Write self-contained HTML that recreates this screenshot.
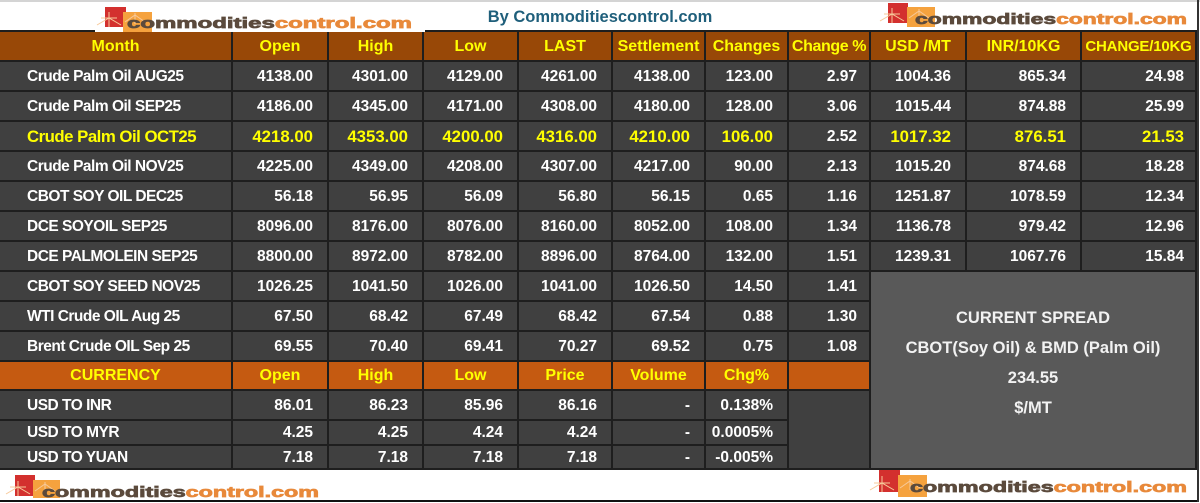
<!DOCTYPE html>
<html><head><meta charset="utf-8"><style>
*{margin:0;padding:0;box-sizing:border-box}
body{width:1200px;height:503px;background:#fff;position:relative;overflow:hidden;font-family:"Liberation Sans",Arial,sans-serif;font-weight:bold}
.g{position:absolute;left:0;top:30px;width:1197px;display:grid;background:#1e1e1e;padding:2px 2px 2px 0;gap:2px;
grid-template-columns:231px 94px 93px 93px 92px 91px 81px 80px 94px 113px 113px;
grid-template-rows:repeat(11,28px) 27px 28px 23px 22px;}
.g>div{display:flex;align-items:center;white-space:nowrap;overflow:visible}
.h{background:#984807;color:#ffff00;justify-content:center;font-size:16px;padding-top:1px}
.c{background:#c55a11;color:#ffff00;justify-content:center;font-size:16px;padding-top:1px}
.d{background:#404040;color:#fff;justify-content:flex-end;padding-right:14px;font-size:15.5px;padding-top:1px}
.d.l{justify-content:flex-start;padding-left:27px;padding-right:0;letter-spacing:-.5px}
.d.p{padding-right:12px}
.d.q{padding-right:11px}
.y{color:#ffff00!important;font-size:16.8px!important}
.sp{grid-column:9/12;grid-row:9/16;background:#595959;color:#f2f2f2;font-size:16.5px;text-align:center;line-height:30px;padding-top:31px;display:block!important}
.dk{grid-column:8;grid-row:13/16;background:#404040}
.title{position:absolute;left:0;top:0;width:1200px;text-align:center;line-height:35px;font-size:16.5px;color:#1f5f7b}
svg{position:absolute;overflow:visible}
</style></head><body>
<div style="position:absolute;left:0;top:0;width:1200px;height:2px;background:#d4d4d4"></div>
<div class="title">By Commoditiescontrol.com</div>
<div class="g">
<div class="h">Month</div><div class="h">Open</div><div class="h">High</div><div class="h">Low</div><div class="h">LAST</div><div class="h">Settlement</div><div class="h">Changes</div><div class="h" style="letter-spacing:-.4px">Change %</div><div class="h">USD /MT</div><div class="h">INR/10KG</div><div class="h" style="font-size:15px;letter-spacing:-.2px">CHANGE/10KG</div>

<div class="d l">Crude Palm Oil AUG25</div><div class="d">4138.00</div><div class="d">4301.00</div><div class="d">4129.00</div><div class="d">4261.00</div><div class="d">4138.00</div><div class="d">123.00</div><div class="d p">2.97</div><div class="d">1004.36</div><div class="d">865.34</div><div class="d q">24.98</div>

<div class="d l">Crude Palm Oil SEP25</div><div class="d">4186.00</div><div class="d">4345.00</div><div class="d">4171.00</div><div class="d">4308.00</div><div class="d">4180.00</div><div class="d">128.00</div><div class="d p">3.06</div><div class="d">1015.44</div><div class="d">874.88</div><div class="d q">25.99</div>

<div class="d l y">Crude Palm Oil OCT25</div><div class="d y">4218.00</div><div class="d y">4353.00</div><div class="d y">4200.00</div><div class="d y">4316.00</div><div class="d y">4210.00</div><div class="d y">106.00</div><div class="d p">2.52</div><div class="d y">1017.32</div><div class="d y">876.51</div><div class="d q y">21.53</div>

<div class="d l">Crude Palm Oil NOV25</div><div class="d">4225.00</div><div class="d">4349.00</div><div class="d">4208.00</div><div class="d">4307.00</div><div class="d">4217.00</div><div class="d">90.00</div><div class="d p">2.13</div><div class="d">1015.20</div><div class="d">874.68</div><div class="d q">18.28</div>

<div class="d l">CBOT SOY OIL DEC25</div><div class="d">56.18</div><div class="d">56.95</div><div class="d">56.09</div><div class="d">56.80</div><div class="d">56.15</div><div class="d">0.65</div><div class="d p">1.16</div><div class="d">1251.87</div><div class="d">1078.59</div><div class="d q">12.34</div>

<div class="d l">DCE SOYOIL SEP25</div><div class="d">8096.00</div><div class="d">8176.00</div><div class="d">8076.00</div><div class="d">8160.00</div><div class="d">8052.00</div><div class="d">108.00</div><div class="d p">1.34</div><div class="d">1136.78</div><div class="d">979.42</div><div class="d q">12.96</div>

<div class="d l">DCE PALMOLEIN SEP25</div><div class="d">8800.00</div><div class="d">8972.00</div><div class="d">8782.00</div><div class="d">8896.00</div><div class="d">8764.00</div><div class="d">132.00</div><div class="d p">1.51</div><div class="d">1239.31</div><div class="d">1067.76</div><div class="d q">15.84</div>

<div class="sp">CURRENT SPREAD<br>CBOT(Soy Oil) &amp; BMD (Palm Oil)<br>234.55<br>$/MT</div>
<div class="dk"></div>

<div class="d l">CBOT SOY SEED NOV25</div><div class="d">1026.25</div><div class="d">1041.50</div><div class="d">1026.00</div><div class="d">1041.00</div><div class="d">1026.50</div><div class="d">14.50</div><div class="d p">1.41</div>

<div class="d l">WTI Crude OIL Aug 25</div><div class="d">67.50</div><div class="d">68.42</div><div class="d">67.49</div><div class="d">68.42</div><div class="d">67.54</div><div class="d">0.88</div><div class="d p">1.30</div>

<div class="d l">Brent Crude OIL Sep 25</div><div class="d">69.55</div><div class="d">70.40</div><div class="d">69.41</div><div class="d">70.27</div><div class="d">69.52</div><div class="d">0.75</div><div class="d p">1.08</div>

<div class="c">CURRENCY</div><div class="c">Open</div><div class="c">High</div><div class="c">Low</div><div class="c">Price</div><div class="c">Volume</div><div class="c">Chg%</div><div class="c"></div>

<div class="d l">USD TO INR</div><div class="d">86.01</div><div class="d">86.23</div><div class="d">85.96</div><div class="d">86.16</div><div class="d">-</div><div class="d">0.138%</div>

<div class="d l">USD TO MYR</div><div class="d">4.25</div><div class="d">4.25</div><div class="d">4.24</div><div class="d">4.24</div><div class="d">-</div><div class="d">0.0005%</div>

<div class="d l">USD TO YUAN</div><div class="d">7.18</div><div class="d">7.18</div><div class="d">7.18</div><div class="d">7.18</div><div class="d">-</div><div class="d">-0.005%</div>
</div>

<!-- top-left logo -->
<svg style="left:95px;top:0" width="330" height="32">
<rect x="0" y="2" width="330" height="30" fill="#fff"/>
<rect x="10" y="7" width="21" height="20" fill="#d3302e"/>
<rect x="28" y="12" width="29" height="20" fill="#f5a23e"/>
<path d="M2 25 L14 18 L26 25 M14 12 L14 27 M6 18 L22 18 M30 22 L40 15 L50 22 M40 13 L40 24" stroke="#f7c99a" stroke-width="1" fill="none"/>
<text x="32" y="28" textLength="285" lengthAdjust="spacingAndGlyphs" font-size="14.5" font-weight="bold" stroke-width="0.7"><tspan fill="#5b4a3c" stroke="#5b4a3c">commodities</tspan><tspan fill="#e8893a" stroke="#e8893a">control.com</tspan></text>
</svg>

<!-- top-right logo -->
<svg style="left:880px;top:0" width="315" height="30">
<rect x="8" y="3" width="20" height="20" fill="#d3302e"/>
<rect x="27" y="7" width="28" height="20" fill="#f5a23e"/>
<path d="M0 21 L12 14 L24 21 M12 8 L12 23 M4 14 L20 14 M29 18 L39 11 L49 18 M39 9 L39 20" stroke="#f7c99a" stroke-width="1" fill="none"/>
<text x="35" y="24" textLength="272" lengthAdjust="spacingAndGlyphs" font-size="14.5" font-weight="bold" stroke-width="0.7"><tspan fill="#5b4a3c" stroke="#5b4a3c">commodities</tspan><tspan fill="#e8893a" stroke="#e8893a">control.com</tspan></text>
</svg>

<!-- bottom-left logo -->
<svg style="left:0;top:470px" width="330" height="30">
<rect x="15" y="5" width="20" height="21" fill="#d3302e"/>
<rect x="33" y="10" width="27" height="18" fill="#f5a23e"/>
<path d="M6 24 L18 17 L30 24 M18 11 L18 26 M10 17 L26 17 M35 21 L45 14 L55 21 M45 12 L45 23" stroke="#f7c99a" stroke-width="1" fill="none"/>
<text x="42" y="27" textLength="277" lengthAdjust="spacingAndGlyphs" font-size="14.5" font-weight="bold" stroke-width="0.7"><tspan fill="#5b4a3c" stroke="#5b4a3c">commodities</tspan><tspan fill="#e8893a" stroke="#e8893a">control.com</tspan></text>
</svg>

<!-- bottom-right logo -->
<svg style="left:870px;top:470px" width="325" height="30">
<rect x="9" y="0" width="21" height="22" fill="#d3302e"/>
<rect x="28" y="5" width="29" height="22" fill="#f5a23e"/>
<path d="M0 20 L12 13 L24 20 M12 6 L12 22 M4 13 L20 13 M30 18 L40 11 L50 18 M40 9 L40 20" stroke="#f7c99a" stroke-width="1" fill="none"/>
<text x="40" y="22" textLength="277" lengthAdjust="spacingAndGlyphs" font-size="14.5" font-weight="bold" stroke-width="0.7"><tspan fill="#5b4a3c" stroke="#5b4a3c">commodities</tspan><tspan fill="#e8893a" stroke="#e8893a">control.com</tspan></text>
</svg>

<div style="position:absolute;left:0;top:500px;width:1199px;height:2px;background:#111"></div>
<div style="position:absolute;left:1197px;top:0;width:2px;height:502px;background:#333"></div>
</body></html>
